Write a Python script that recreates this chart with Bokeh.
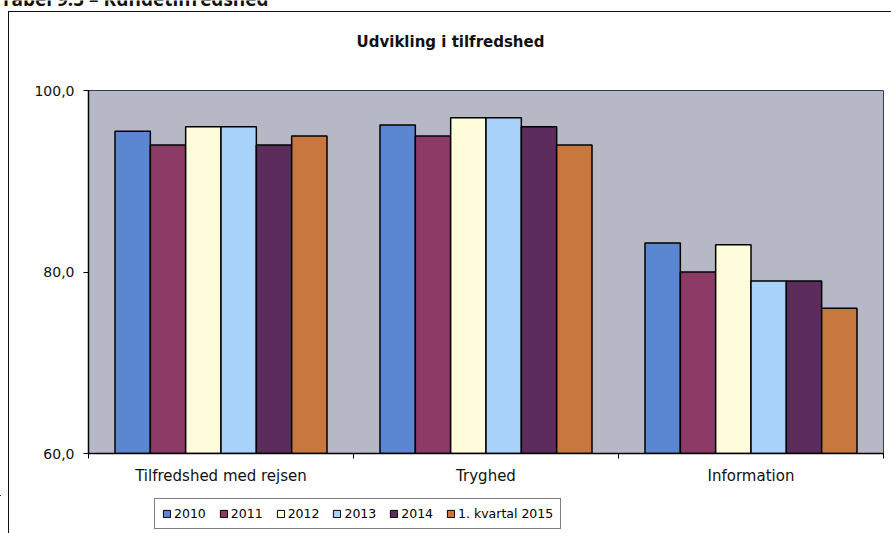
from bokeh.plotting import figure
from bokeh.layouts import column
from bokeh.models import (FactorRange, Range1d, LinearAxis, FixedTicker, CustomJSTickFormatter,
                          ColumnDataSource, Legend, LegendItem, Label, InlineStyleSheet)
from bokeh.transform import dodge
from bokeh.embed import file_html
from bokeh.resources import INLINE

categories = ["Tilfredshed med rejsen", "Tryghed", "Information"]
series_names = ["2010", "2011", "2012", "2013", "2014", "1. kvartal 2015"]
v2010 = [95.5, 96.2, 83.2]
v2011 = [94.0, 95.0, 80.0]
v2012 = [96.0, 97.0, 83.0]
v2013 = [96.0, 97.0, 79.0]
v2014 = [94.0, 96.0, 79.0]
v2015 = [95.0, 94.0, 76.0]
y_ticks = [60, 80, 100]

colors = ["#5a86d2", "#8c3a66", "#fffcdc", "#a9d2fa", "#5c2c5c", "#c8773f"]
series_values = [v2010, v2011, v2012, v2013, v2014, v2015]

FONT = "DejaVu Sans"
W = 891
HEAD_H = 60
MAIN_H = 435
LEG_H = 38


def bare(y_top, height):
    """Undecorated strip whose data coordinates equal page pixels."""
    f = figure(width=W, height=height, output_backend="svg", toolbar_location=None,
               x_range=Range1d(0, W), y_range=Range1d(y_top + height, y_top),
               x_axis_type=None, y_axis_type=None, min_border=0)
    if "frame_align" in f.properties():
        f.frame_align = False
    f.outline_line_color = None
    f.xgrid.visible = False
    f.ygrid.visible = False
    f.background_fill_color = "white"
    f.border_fill_color = "white"
    return f


# headings (the page heading runs off the top edge)
head = bare(0, HEAD_H)
head.add_layout(Label(x=0, y=-2, text="Tabel 9.5 \u2013 Kundetilfredshed",
                      text_font="Open Sans", text_font_size="19px", text_font_style="bold",
                      text_align="left", text_baseline="alphabetic", text_color="#111111"))
head.add_layout(Label(x=450, y=41.5, text="Udvikling i tilfredshed",
                      text_font=FONT, text_font_size="15px", text_font_style="bold",
                      text_align="center", text_baseline="alphabetic", text_color="#111111"))

source = ColumnDataSource(dict(cat=categories, **{f"s{i}": v for i, v in enumerate(series_values)}))

p = figure(width=W, height=MAIN_H, output_backend="svg", toolbar_location=None,
           x_range=FactorRange(factors=categories, range_padding=0, factor_padding=0),
           y_range=Range1d(60, 100), x_axis_type=None, y_axis_type=None,
           min_border_left=88, min_border_right=8, min_border_top=30, min_border_bottom=42)
p.background_fill_color = "#b7b8c5"
p.border_fill_color = "white"
p.outline_line_color = "#3c3c48"
p.outline_line_width = 1

# grouped bars
n = len(series_names)
bar_w = 0.8 / n
for i, name in enumerate(series_names):
    off = -0.4 + bar_w * (i + 0.5)
    p.vbar(x=dodge("cat", off, range=p.x_range), top=f"s{i}", bottom=60, width=bar_w,
           source=source, fill_color=colors[i], line_color="black", line_width=1.5)

# axes
yaxis = LinearAxis(ticker=FixedTicker(ticks=y_ticks, minor_ticks=[]),
                   formatter=CustomJSTickFormatter(code="return tick.toFixed(1).replace('.', ',')"))
yaxis.axis_line_color = "black"
yaxis.axis_line_width = 1.5
yaxis.major_tick_out = 5
yaxis.major_tick_in = 0
yaxis.major_tick_line_color = "black"
yaxis.major_label_standoff = 9
yaxis.major_label_text_font = FONT
yaxis.major_label_text_font_size = "14px"
yaxis.major_label_text_color = "#111111"
p.add_layout(yaxis, "left")

xaxis = LinearAxis(ticker=FixedTicker(ticks=[0.5, 1.5, 2.5], minor_ticks=[0, 1, 2, 3]),
                   formatter=CustomJSTickFormatter(args=dict(names=categories),
                                                   code="return names[Math.floor(tick)]"))
xaxis.axis_line_color = "black"
xaxis.axis_line_width = 1.5
xaxis.major_tick_out = 0
xaxis.major_tick_in = 0
xaxis.minor_tick_out = 5
xaxis.minor_tick_in = 0
xaxis.minor_tick_line_color = "black"
xaxis.major_label_standoff = 8
xaxis.major_label_text_font = FONT
xaxis.major_label_text_font_size = "15px"
xaxis.major_label_text_color = "#111111"
p.add_layout(xaxis, "below")

p.xgrid.visible = False
p.ygrid.ticker = FixedTicker(ticks=[80])
p.ygrid.grid_line_color = "#1a1a22"
p.ygrid.grid_line_width = 1

# legend strip under the chart; swatch renderers sit outside the visible range
leg = bare(HEAD_H + MAIN_H, LEG_H)
items = []
for i, name in enumerate(series_names):
    r = leg.vbar(x=[-50], top=[-50], bottom=-60, width=1,
                 fill_color=colors[i], line_color="black", line_width=1)
    items.append(LegendItem(label=name, renderers=[r]))
legend = Legend(items=items, orientation="horizontal", location=(154, 4),
                glyph_width=9, glyph_height=9, label_height=14, label_standoff=3,
                spacing=13, padding=7, margin=0,
                label_text_font=FONT, label_text_font_size="12.5px", label_text_color="black",
                border_line_color="black", border_line_width=1, background_fill_color="white",
                background_fill_alpha=1)
leg.add_layout(legend, "center")

layout = column(head, p, leg, spacing=0)
# chart area frame (left and top edges of the surrounding box)
layout.stylesheets = [InlineStyleSheet(css="""
:host { position: relative; }
:host::after {
  content: ""; position: absolute; left: 8px; top: 11px; width: 883px; height: 522px;
  box-sizing: border-box; border-left: 1.5px solid #111; border-top: 1.5px solid #111;
  pointer-events: none; z-index: 100;
}
""")]

open("out.html", "w").write(file_html(layout, INLINE))
